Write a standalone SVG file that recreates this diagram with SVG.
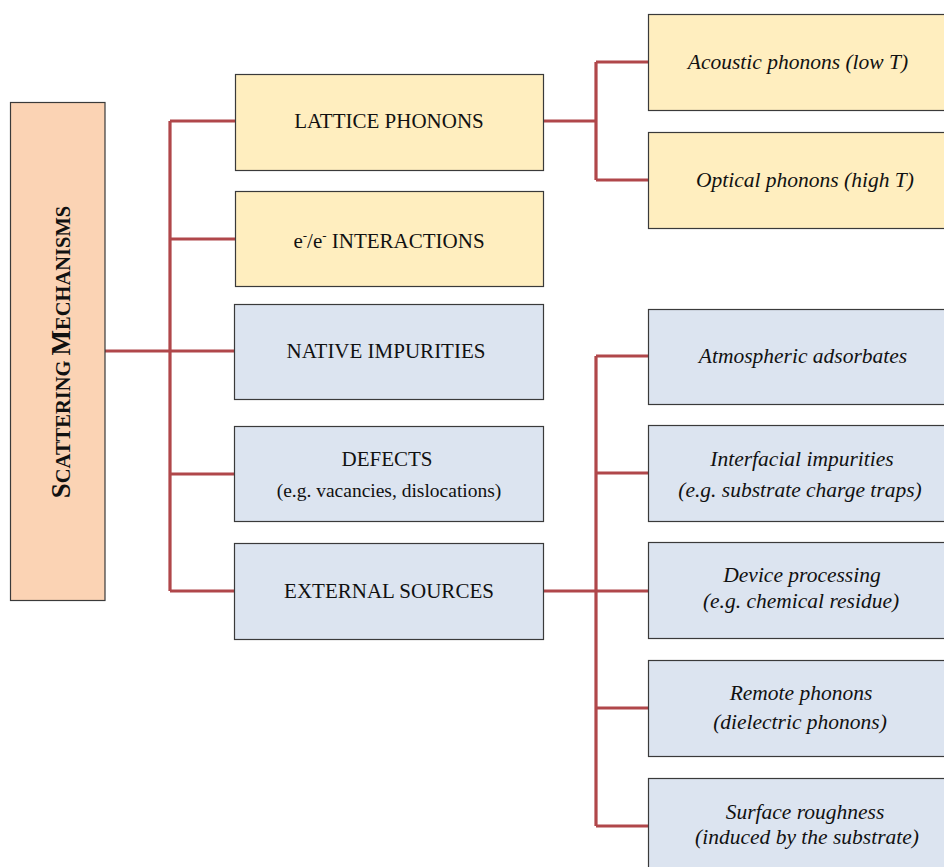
<svg xmlns="http://www.w3.org/2000/svg" width="944" height="867" viewBox="0 0 944 867">
<style>
.box{stroke:#3a3a3a;stroke-width:1.2}
.peach{fill:#FBD3B4}
.yel{fill:#FFEEBF}
.blue{fill:#DCE4F0}
.t{font-family:"Liberation Serif","DejaVu Serif",serif;fill:#111;text-anchor:middle}
.m{font-size:21px}
.s{font-size:19.5px}
.i{font-size:21.5px;font-style:italic}
.c{fill:none;stroke:#B0474A;stroke-width:3.2}
</style>
<rect width="944" height="867" fill="#fff"/>
<g id="connectors">
<path class="c" d="M105 351H170M170 121V591M170 121H235M170 239H235M170 351H235M170 474H235M170 591H235"/>
<path class="c" d="M543 121H596M596 62V180M596 62H648M596 180H648"/>
<path class="c" d="M543 591H596M596 356V826M596 356H648M596 473H648M596 591H648M596 708H648M596 826H648"/>
</g>
<g id="scattering">
<rect class="box peach" x="10.5" y="102.5" width="94.5" height="498"/>
<text class="t" transform="translate(70 352) rotate(-90)" font-weight="bold" font-size="27"><tspan>S</tspan><tspan font-size="20.5">CATTERING </tspan><tspan>M</tspan><tspan font-size="20.5">ECHANISMS</tspan></text>
</g>
<g id="lattice">
<rect class="box yel" x="235.5" y="74.5" width="308" height="96"/>
<text class="t m" x="389" y="128">LATTICE PHONONS</text>
</g>
<g id="ee">
<rect class="box yel" x="235.5" y="191.5" width="308" height="95"/>
<text class="t m" x="389" y="248">e<tspan font-size="13" dy="-8">-</tspan><tspan dy="8">/e</tspan><tspan font-size="13" dy="-8">-</tspan><tspan dy="8"> INTERACTIONS</tspan></text>
</g>
<g id="native">
<rect class="box blue" x="234.5" y="304.5" width="309" height="95"/>
<text class="t m" x="386" y="358">NATIVE IMPURITIES</text>
</g>
<g id="defects">
<rect class="box blue" x="234.5" y="426.5" width="309" height="95"/>
<text class="t m" x="387" y="466">DEFECTS</text>
<text class="t s" x="389" y="497">(e.g. vacancies, dislocations)</text>
</g>
<g id="external">
<rect class="box blue" x="234.5" y="543.5" width="309" height="96"/>
<text class="t m" x="389" y="598">EXTERNAL SOURCES</text>
</g>
<g id="acoustic">
<rect class="box yel" x="648.5" y="14.5" width="310" height="96"/>
<text class="t i" x="798" y="69">Acoustic phonons (low T)</text>
</g>
<g id="optical">
<rect class="box yel" x="648.5" y="132.5" width="310" height="96"/>
<text class="t i" x="805" y="187">Optical phonons (high T)</text>
</g>
<g id="atmospheric">
<rect class="box blue" x="648.5" y="309.5" width="310" height="95"/>
<text class="t i" x="803" y="363">Atmospheric adsorbates</text>
</g>
<g id="interfacial">
<rect class="box blue" x="648.5" y="425.5" width="310" height="96"/>
<text class="t i" x="802" y="466">Interfacial impurities</text>
<text class="t i" x="800" y="497">(e.g. substrate charge traps)</text>
</g>
<g id="device">
<rect class="box blue" x="648.5" y="542.5" width="310" height="96"/>
<text class="t i" x="802" y="582">Device processing</text>
<text class="t i" x="801" y="608">(e.g. chemical residue)</text>
</g>
<g id="remote">
<rect class="box blue" x="648.5" y="660.5" width="310" height="96"/>
<text class="t i" x="801" y="700">Remote phonons</text>
<text class="t i" x="800" y="729">(dielectric phonons)</text>
</g>
<g id="surface">
<rect class="box blue" x="648.5" y="778.5" width="310" height="96"/>
<text class="t i" x="805" y="819">Surface roughness</text>
<text class="t i" x="807" y="844">(induced by the substrate)</text>
</g>
</svg>
